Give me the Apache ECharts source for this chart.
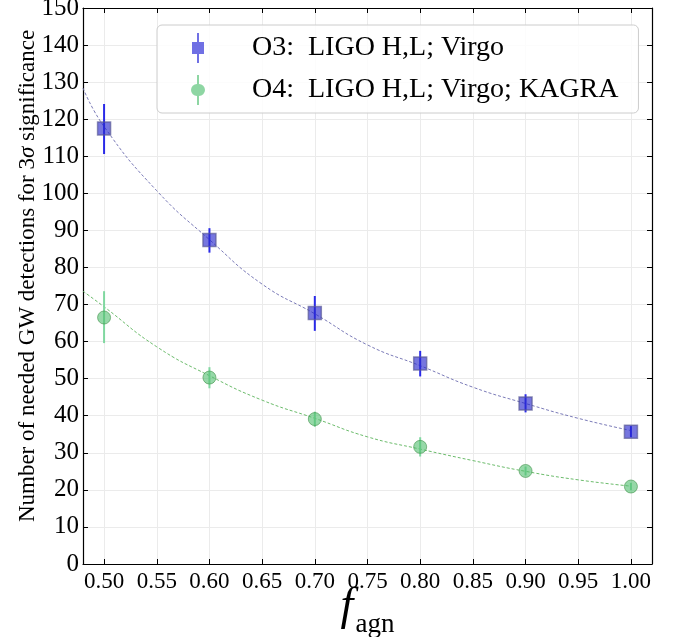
<!DOCTYPE html>
<html>
<head>
<meta charset="utf-8">
<script src="https://cdn.jsdelivr.net/npm/echarts@6/dist/echarts.min.js"></script>
<style>html,body{margin:0;padding:0;background:#fff}#c{width:681px;height:637px}</style>
</head>
<body>
<div id="c"></div>
<script>
// ---- data ----
const fagn = [0.5, 0.6, 0.7, 0.8, 0.9, 1.0];
const o3Mean = [117.5, 87.4, 67.7, 54.1, 43.3, 35.7];
const o3Low  = [110.6, 84.0, 62.9, 50.6, 40.9, 34.2];
const o3High = [124.1, 90.6, 72.3, 57.5, 45.8, 37.2];
const o4Mean = [66.5, 50.3, 39.1, 31.6, 25.1, 20.9];
const o4Low  = [59.6, 47.4, 37.0, 29.0, 23.9, 19.9];
const o4High = [73.6, 53.1, 41.1, 34.2, 26.3, 21.9];
const fitX   = [0.48, 0.5, 0.55, 0.6, 0.65, 0.7, 0.75, 0.8, 0.85, 0.9, 0.95, 1.0];
const fitO3  = [128.4, 118.0, 100.7, 87.5, 75.5, 67.5, 59.1, 53.5, 47.7, 43.3, 39.3, 36.0];
const fitO4  = [73.6, 69.4, 58.6, 50.8, 44.2, 39.3, 34.3, 31.0, 27.9, 25.0, 22.7, 21.0];
const xTicks = [0.5, 0.55, 0.6, 0.65, 0.7, 0.75, 0.8, 0.85, 0.9, 0.95, 1.0];
const names = ['O3:  LIGO H,L; Virgo', 'O4:  LIGO H,L; Virgo; KAGRA'];

const FONT = 'Liberation Serif';
const zip = (a, b) => a.map((v, i) => [v, b[i]]);
const zip3 = (a, b, c) => a.map((v, i) => [v, b[i], c[i]]);

function errBar(color) {
  return function (params, api) {
    const x = api.value(0), lo = api.value(1), hi = api.value(2);
    const p1 = api.coord([x, lo]), p2 = api.coord([x, hi]);
    return { type: 'line', shape: { x1: p1[0], y1: p1[1], x2: p2[0], y2: p2[1] },
      style: { stroke: color, lineWidth: 2 } };
  };
}

const chart = echarts.init(document.getElementById('c'), null, { renderer: 'canvas' });
const axisLine = { show: true, onZero: false, lineStyle: { color: '#000', width: 1.2 } };
const tick = { show: true, inside: true, length: 5, lineStyle: { color: '#000', width: 1 } };
const errIcon = 'path://M-1,-15 L1,-15 L1,-6 L6,-6 L6,6 L1,6 L1,15 L-1,15 L-1,6 L-6,6 L-6,-6 L-1,-6 Z';
const errIconC = 'path://M-1,-15 L1,-15 L1,-6 A6,6 0 0 1 1,6 L1,15 L-1,15 L-1,6 A6,6 0 0 1 -1,-6 Z';

chart.setOption({
  animation: false,
  backgroundColor: '#fff',
  grid: { left: 83, right: 29, top: 8, bottom: 73, containLabel: false, outerBoundsMode: 'none' },
  legend: {
    orient: 'vertical', left: 157, top: 25,
    padding: [8, 20, 8, 34],
    itemWidth: 60, itemHeight: 30, itemGap: 12,
    backgroundColor: 'rgba(255,255,255,0.85)',
    borderColor: '#cccccc', borderWidth: 1, borderRadius: 5,
    textStyle: { fontFamily: FONT, fontSize: 28, color: '#000', padding: [0, 0, 0, 19] },
    data: [
      { name: names[0], icon: errIcon, itemStyle: { color: 'rgba(45,45,215,0.85)', borderWidth: 0 } },
      { name: names[1], icon: errIconC, itemStyle: { color: 'rgba(90,195,120,0.85)', borderWidth: 0 } }
    ]
  },
  xAxis: [{
    type: 'value', min: 0.48, max: 1.02, position: 'bottom',
    name: '{f|f}{s|agn}', nameLocation: 'middle', nameGap: 20, nameMoveOverlap: false,
    nameTextStyle: { verticalAlign: 'top', rich: {
      f: { fontFamily: FONT, fontStyle: 'italic', fontSize: 46, color: '#000', verticalAlign: 'bottom', padding: [0, 2, 8, 0] },
      s: { fontFamily: FONT, fontSize: 27, color: '#000', verticalAlign: 'bottom' } } },
    axisLine, axisTick: Object.assign({ customValues: xTicks }, tick),
    axisLabel: { customValues: xTicks, fontFamily: FONT, fontSize: 23, color: '#000', margin: 6,
      formatter: v => v.toFixed(2) },
    splitLine: { show: true, lineStyle: { color: '#ebebeb', width: 1 } }
  }, {
    type: 'value', min: 0.48, max: 1.02, position: 'top',
    axisLine, axisTick: Object.assign({ customValues: xTicks }, tick),
    axisLabel: { show: false }, splitLine: { show: false }
  }],
  yAxis: [{
    type: 'value', min: 0, max: 150, interval: 10, position: 'left',
    name: 'Number of needed GW detections for 3{i|σ} significance',
    nameLocation: 'middle', nameGap: 44, nameMoveOverlap: false,
    nameTextStyle: { fontFamily: FONT, fontSize: 23, color: '#000', padding: [0, 0, 0, 20],
      rich: { i: { fontFamily: FONT, fontStyle: 'italic', fontSize: 23, color: '#000' } } },
    axisLine, axisTick: tick,
    axisLabel: { fontFamily: FONT, fontSize: 25, color: '#000', margin: 4 },
    splitLine: { show: true, lineStyle: { color: '#ebebeb', width: 1 } }
  }, {
    type: 'value', min: 0, max: 150, interval: 10, position: 'right',
    axisLine, axisTick: tick, axisLabel: { show: false }, splitLine: { show: false }
  }],
  series: [
    { name: 'fitO3', type: 'line', smooth: true, showSymbol: false, z: 1, silent: true,
      data: zip(fitX, fitO3), lineStyle: { color: '#7b7bb8', width: 1, type: [3, 2] } },
    { name: 'fitO4', type: 'line', smooth: true, showSymbol: false, z: 1, silent: true,
      data: zip(fitX, fitO4), lineStyle: { color: '#6cbc6c', width: 1, type: [3, 2] } },
    { name: 'errO3', type: 'custom', z: 2, renderItem: errBar('#2a2ae8'),
      encode: { x: 0, y: [1, 2] }, data: zip3(fagn, o3Low, o3High) },
    { name: 'errO4', type: 'custom', z: 2, renderItem: errBar('#80d8a0'),
      encode: { x: 0, y: [1, 2] }, data: zip3(fagn, o4Low, o4High) },
    { name: names[0], type: 'scatter', symbol: 'rect', symbolSize: 13, z: 3,
      data: zip(fagn, o3Mean),
      itemStyle: { color: 'rgba(40,40,205,0.8)', borderColor: 'rgba(90,90,150,0.85)', borderWidth: 1.5 } },
    { name: names[1], type: 'scatter', symbol: 'circle', symbolSize: 13, z: 3,
      data: zip(fagn, o4Mean),
      itemStyle: { color: 'rgba(80,190,110,0.75)', borderColor: 'rgba(70,150,80,0.8)', borderWidth: 1 } }
  ]
});
</script>
</body>
</html>
